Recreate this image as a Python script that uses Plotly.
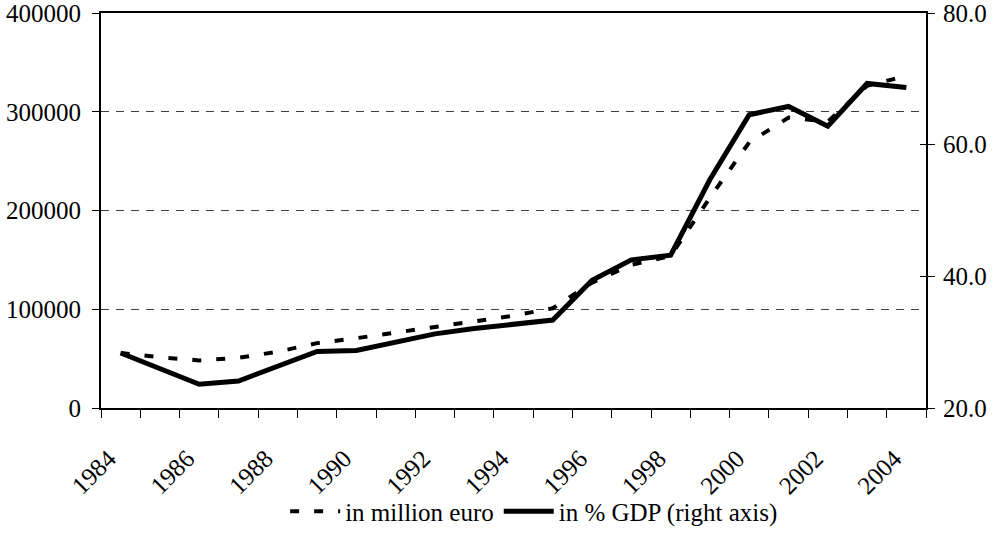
import plotly.graph_objects as go

years = list(range(1984, 2005))
million_euro = [55700, 51400, 48200, 50800, 57000, 65700, 70700, 76600, 82800, 87700,
                93500, 101000, 127000, 145000, 154000, 213000, 269000, 294000, 290000,
                326300, 336300]
pct_gdp = [28.35, 25.9, 23.6, 24.1, 26.4, 28.6, 28.75, 29.95, 31.26, 32.08,
           32.7, 33.35, 39.4, 42.5, 43.2, 54.7, 64.55, 65.8, 62.8, 69.3, 68.7]
tick_years = list(range(1984, 2005, 2))
tick_labels = [str(y) for y in tick_years]
left_ticks = [0, 100000, 200000, 300000, 400000]
right_ticks = [20, 40, 60, 80]

FONT = "Liberation Serif, serif"

fig = go.Figure()
fig.add_trace(go.Scatter(
    x=years, y=million_euro, name="in million euro", mode="lines",
    line=dict(color="black", width=4, dash="9px,15px"), yaxis="y"))
fig.add_trace(go.Scatter(
    x=years, y=pct_gdp, name="in % GDP (right axis)", mode="lines",
    line=dict(color="black", width=5), yaxis="y2"))

fig.update_layout(
    width=992, height=546,
    margin=dict(l=101, r=66, t=13, b=120),
    paper_bgcolor="white", plot_bgcolor="white",
    font=dict(family=FONT, size=25, color="black"),
    showlegend=True,
    legend=dict(orientation="h", x=0.525, xanchor="center", y=-0.262, yanchor="middle",
                font=dict(family=FONT, size=25, color="black"),
                bgcolor="rgba(0,0,0,0)", itemwidth=50, tracegroupgap=0),
    xaxis=dict(
        range=[1983.5, 2004.5], tickmode="array", tickvals=tick_years, ticktext=tick_labels,
        tickangle=-45, ticks="", showgrid=False, zeroline=False, automargin=False,
        showline=True, linecolor="black", linewidth=2, mirror=True,
        ticklabelstandoff=24, ticklabelshift=-12,
        minor=dict(tick0=1983.5, dtick=1, ticks="outside", ticklen=8, tickwidth=1,
                   tickcolor="black", showgrid=False),
        tickfont=dict(family=FONT, size=25)),
    yaxis=dict(
        range=[0, 400000], tickmode="array", tickvals=left_ticks, automargin=False,
        ticks="outside", ticklen=7, tickwidth=1, tickcolor="black",
        showline=True, linecolor="black", linewidth=2, ticklabeloverflow="allow",
        ticklabelstandoff=6,
        showgrid=True, gridcolor="#404040", gridwidth=1, griddash="8px,7px",
        zeroline=False, tickformat="d", tickfont=dict(family=FONT, size=25)),
    yaxis2=dict(
        range=[20, 80], tickmode="array", tickvals=right_ticks, overlaying="y", side="right",
        ticks="outside", ticklen=7, tickwidth=1, tickcolor="black", automargin=False,
        showline=True, linecolor="black", linewidth=2, showgrid=False, zeroline=False,
        ticklabeloverflow="allow", ticklabelstandoff=3,
        tickformat=".1f", tickfont=dict(family=FONT, size=25)),
    yaxis3=dict(
        range=[20, 80], tickmode="array", tickvals=right_ticks, overlaying="y", side="right",
        ticks="inside", ticklen=6, tickwidth=1, tickcolor="black", automargin=False,
        showticklabels=False, showline=False, showgrid=False, zeroline=False),
)
# invisible helper trace so yaxis3 is drawn
fig.add_trace(go.Scatter(x=[years[0]], y=[pct_gdp[0]], yaxis="y3", mode="lines",
                         showlegend=False, hoverinfo="skip", line=dict(width=0)))

fig.write_html("out.html", config={"displayModeBar": False},
               post_script="document.body.style.margin='0';document.body.style.overflow='hidden';")
